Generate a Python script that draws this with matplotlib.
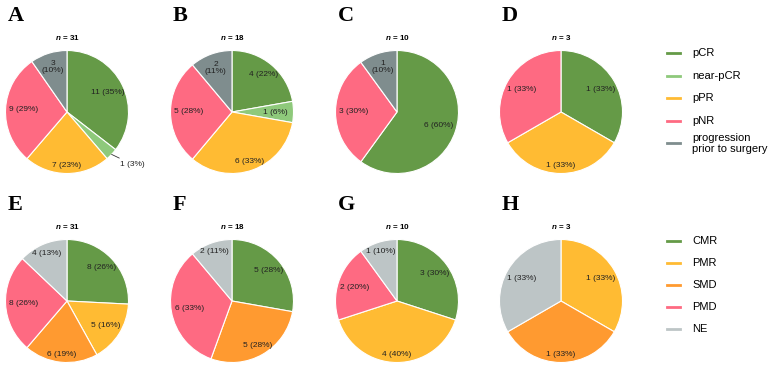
import matplotlib
matplotlib.use("Agg")
import matplotlib.pyplot as plt
from matplotlib.lines import Line2D
import numpy as np

plt.rcParams['font.family'] = ['Liberation Sans', 'DejaVu Sans']
plt.rcParams['mathtext.fontset'] = 'custom'
plt.rcParams['mathtext.it'] = 'Liberation Sans:italic:bold'

# pathological response (top row)
path_cats = ['pCR', 'near-pCR', 'pPR', 'pNR', 'progression\nprior to surgery']
path_colors = ['#659a47', '#8ec97b', '#ffbb33', '#fe6a82', '#7f8d8e']
path_A = [11, 1, 7, 9, 3]
path_B = [4, 1, 6, 5, 2]
path_C = [6, 0, 0, 3, 1]
path_D = [1, 0, 1, 1, 0]

# metabolic response (bottom row)
met_cats = ['CMR', 'PMR', 'SMD', 'PMD', 'NE']
met_colors = ['#659a47', '#ffbb33', '#ff9a30', '#fe6a82', '#bdc5c6']
met_E = [8, 5, 6, 8, 4]
met_F = [5, 0, 5, 6, 2]
met_G = [3, 4, 0, 2, 1]
met_H = [0, 1, 1, 0, 1]

W, H = 770, 369
fig = plt.figure(figsize=(W / 100, H / 100), dpi=100)

R = 61.5
centers_x = [67, 232, 397, 561]
row_y = [112, 301]


def draw_pie(letter, vals, colors, cx, cy, two_line_last=False):
    ax = fig.add_axes([(cx - R) / W, (H - cy - R) / H, 2 * R / W, 2 * R / H])
    keep = [i for i, v in enumerate(vals) if v > 0]
    sizes = [vals[i] for i in keep]
    cols = [colors[i] for i in keep]
    n = sum(vals)
    wedges, _ = ax.pie(sizes, colors=cols, startangle=90, counterclock=False,
                       wedgeprops=dict(edgecolor='white', linewidth=0.8))
    ax.set_xlim(-1, 1)
    ax.set_ylim(-1, 1)
    ax.set_aspect('equal')
    for w, i in zip(wedges, keep):
        v = vals[i]
        pct = round(100 * v / n)
        ang = np.deg2rad((w.theta1 + w.theta2) / 2)
        c, s = np.cos(ang), np.sin(ang)
        if v / n < 0.05:
            # tiny slice: label outside with a short leader line
            ax.annotate(f'{v} ({pct}%)', xy=(1.0 * c, 1.0 * s),
                        xytext=(1.12 * c + 0.05, 1.12 * s - 0.08),
                        fontsize=6, ha='left', va='center', color='#222222',
                        arrowprops=dict(arrowstyle='-', color='#333333', lw=0.6,
                                        shrinkA=0, shrinkB=0))
            continue
        if two_line_last and i == len(vals) - 1:
            txt = f'{v}\n({pct}%)'
            d = 0.68 + 0.10 * s ** 2
        else:
            txt = f'{v} ({pct}%)'
            d = 0.70 + 0.17 * s ** 2
        ax.text(d * c, d * s, txt, fontsize=6, ha='center', va='center',
                color='#222222', linespacing=1.0)
    fig.text(cx / W, 1 - (cy - R - 13) / H, f'$n$ = {n}', fontsize=5.8,
             fontweight='bold', ha='center', va='center')
    fig.text((cx - 59) / W, 1 - (cy - 96) / H, letter, fontsize=16,
             fontweight='bold', family='Liberation Serif', ha='left', va='center')


for letter, vals, cx in zip('ABCD', [path_A, path_B, path_C, path_D], centers_x):
    draw_pie(letter, vals, path_colors, cx, row_y[0], two_line_last=True)
for letter, vals, cx in zip('EFGH', [met_E, met_F, met_G, met_H], centers_x):
    draw_pie(letter, vals, met_colors, cx, row_y[1])


def draw_legend(cats, colors, y0, step):
    for k, (lab, col) in enumerate(zip(cats, colors)):
        y = 1 - (y0 + k * step) / H
        fig.add_artist(Line2D([667 / W, 680 / W], [y, y], color=col, lw=2.0,
                              transform=fig.transFigure))
        fig.text(692 / W, y, lab, fontsize=8, ha='left', va='center',
                 linespacing=1.12)


draw_legend(path_cats, path_colors, 53, 22.6)
draw_legend(met_cats, met_colors, 241, 22)

fig.savefig('out.png', dpi=100)
